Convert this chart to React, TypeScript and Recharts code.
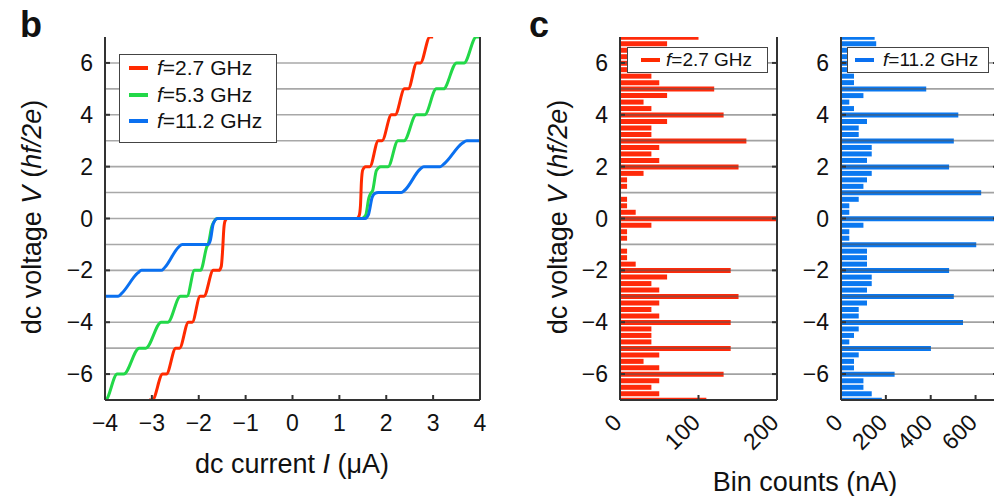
import React from "react";
import {
  LineChart,
  Line,
  BarChart,
  Bar,
  XAxis,
  YAxis,
  CartesianGrid,
  ReferenceLine,
} from "recharts";

const FONT = '"Liberation Sans", Arial, Helvetica, sans-serif';
const AXIS = "#333";
const GRID = "#a8a8a8";

// panel b: I-V curves, [current (uA), voltage (hf/2e)]
const I_TICKS = [-4, -3, -2, -1, 0, 1, 2, 3, 4];
const V_TICKS = [-6, -4, -2, 0, 2, 4, 6];
const V_GRID = [-6, -5, -4, -3, -2, -1, 0, 1, 2, 3, 4, 5, 6];

const RED_CURVE = [
  [-3.06, -7], [-2.99, -7], [-2.77, -6], [-2.69, -6], [-2.49, -5], [-2.41, -5],
  [-2.22, -4], [-2.14, -4], [-1.97, -3], [-1.89, -3], [-1.69, -2], [-1.57, -2],
  [-1.52, -1.85], [-1.49, -1.2], [-1.465, -0.4], [-1.44, -0.1], [-1.39, 0],
  [1.37, 0], [1.42, 0.1], [1.45, 0.5], [1.47, 1.4], [1.5, 1.88], [1.56, 2],
  [1.65, 2], [1.83, 3], [1.91, 3], [2.11, 4], [2.19, 4], [2.39, 5], [2.47, 5],
  [2.65, 6], [2.73, 6], [2.93, 7], [3.0, 7],
];

const GREEN_CURVE = [
  [-4.1, -7], [-3.99, -7], [-3.74, -6], [-3.6, -6], [-3.27, -5], [-3.13, -5],
  [-2.8, -4], [-2.66, -4], [-2.39, -3], [-2.25, -3], [-2.09, -2], [-1.96, -2],
  [-1.83, -1.1], [-1.79, -0.93], [-1.72, -0.3], [-1.6, 0],
  [1.48, 0], [1.56, 0.12], [1.63, 0.8], [1.67, 0.97], [1.71, 1.08], [1.79, 1.85],
  [1.88, 2], [2.04, 2], [2.25, 3], [2.38, 3], [2.64, 4], [2.82, 4], [3.07, 5],
  [3.22, 5], [3.5, 6], [3.66, 6], [3.92, 7], [4.05, 7],
];

const BLUE_CURVE = [
  [-4.1, -3], [-3.72, -3], [-3.65, -2.9], [-3.3, -2.1], [-3.22, -2], [-2.8, -2],
  [-2.73, -1.9], [-2.43, -1.1], [-2.35, -1], [-1.8, -1], [-1.75, -0.82],
  [-1.69, -0.2], [-1.6, 0],
  [1.55, 0], [1.62, 0.15], [1.7, 0.82], [1.76, 0.97], [1.83, 1], [2.32, 1],
  [2.4, 1.1], [2.72, 1.9], [2.8, 2], [3.15, 2], [3.23, 2.1], [3.62, 2.9],
  [3.72, 3], [4.1, 3],
];

const SERIES = [
  { key: "red", label: "2.7 GHz", color: "#ff2a00", points: RED_CURVE },
  { key: "green", label: "5.3 GHz", color: "#22d848", points: GREEN_CURVE },
  { key: "blue", label: "11.2 GHz", color: "#0a70f0", points: BLUE_CURVE },
];

// panel c: histograms, bins of 0.25 hf/2e
const V_BINS = [
  7, 6.75, 6.5, 6.25, 6, 5.75, 5.5, 5.25, 5, 4.75, 4.5, 4.25, 4, 3.75, 3.5, 3.25,
  3, 2.75, 2.5, 2.25, 2, 1.75, 1.5, 1.25, 1, 0.75, 0.5, 0.25, 0, -0.25, -0.5,
  -0.75, -1, -1.25, -1.5, -1.75, -2, -2.25, -2.5, -2.75, -3, -3.25, -3.5, -3.75,
  -4, -4.25, -4.5, -4.75, -5, -5.25, -5.5, -5.75, -6, -6.25, -6.5, -6.75, -7,
];

const RED_COUNTS = [
  100, 60, 45, 40, 130, 40, 40, 50, 120, 60, 30, 40, 132, 60, 40, 40,
  161, 50, 40, 50, 151, 30, 9, 9, 0, 9, 9, 20, 200, 40, 9,
  9, 0, 9, 9, 20, 141, 60, 40, 50, 151, 50, 40, 50,
  141, 40, 40, 40, 141, 50, 30, 50, 132, 50, 40, 50, 110,
];

const BLUE_COUNTS = [
  150, 157, 40, 40, 300, 50, 58, 58, 380, 100, 37, 58, 523, 116, 79, 79,
  503, 137, 137, 116, 482, 137, 116, 100, 625, 79, 37, 37, 700, 100, 37,
  37, 603, 116, 116, 116, 482, 137, 137, 116, 503, 116, 79, 79,
  544, 79, 58, 37, 401, 79, 58, 58, 239, 100, 100, 137, 182,
];

const RED_X_TICKS = [0, 100, 200];
const BLUE_X_TICKS = [0, 200, 400, 600];

const redRows = V_BINS.map((v, k) => ({ v, n: RED_COUNTS[k] }));
const blueRows = V_BINS.map((v, k) => ({ v, n: BLUE_COUNTS[k] }));

const fmt = (v: number) => (v < 0 ? `\u2212${-v}` : `${v}`);

const LeftTick = (p: any) => (
  <g>
    <line x1={p.x} x2={p.x + 5} y1={p.y} y2={p.y} stroke={AXIS} strokeWidth={2} />
    <text x={p.x - 12} y={p.y} dy={8} textAnchor="end" fontSize={23} fill="#111">
      {fmt(p.payload.value)}
    </text>
  </g>
);

const RightTick = (p: any) => (
  <line x1={p.x} x2={p.x - 5} y1={p.y} y2={p.y} stroke={AXIS} strokeWidth={2} />
);

const TopTick = (p: any) => (
  <line x1={p.x} x2={p.x} y1={p.y} y2={p.y + 5} stroke={AXIS} strokeWidth={2} />
);

const BottomTick = (p: any) => (
  <g>
    <line x1={p.x} x2={p.x} y1={p.y} y2={p.y - 5} stroke={AXIS} strokeWidth={2} />
    <text x={p.x} y={p.y + 31} textAnchor="middle" fontSize={23} fill="#111">
      {fmt(p.payload.value)}
    </text>
  </g>
);

const SlantTick = (p: any) => {
  const ax = p.x + 3;
  const ay = p.y + 24;
  return (
    <g>
      <line x1={p.x} x2={p.x} y1={p.y} y2={p.y - 5} stroke={AXIS} strokeWidth={2} />
      <text
        x={ax}
        y={ay}
        transform={`rotate(-45 ${ax} ${ay})`}
        textAnchor="end"
        fontSize={23}
        fill="#111"
      >
        {p.payload.value}
      </text>
    </g>
  );
};

const axisLine = { stroke: AXIS, strokeWidth: 2 };

function Histogram({
  rows,
  color,
  max,
  ticks,
  yWidth,
  rWidth,
  width,
}: {
  rows: { v: number; n: number }[];
  color: string;
  max: number;
  ticks: number[];
  yWidth: number;
  rWidth: number;
  width: number;
}) {
  return (
    <BarChart
      width={width}
      height={496}
      data={rows}
      layout="vertical"
      margin={{ top: 37, right: 0, bottom: 0, left: 0 }}
      barCategoryGap={0}
    >
      <XAxis
        type="number"
        domain={[0, max]}
        ticks={ticks}
        interval={0}
        allowDataOverflow
        height={96}
        axisLine={axisLine}
        tickLine={false}
        tickSize={0}
        tickMargin={0}
        tick={SlantTick}
      />
      <XAxis
        xAxisId="top"
        orientation="top"
        type="number"
        domain={[0, max]}
        ticks={ticks}
        interval={0}
        height={0}
        axisLine={axisLine}
        tickLine={false}
        tickSize={0}
        tickMargin={0}
        tick={TopTick}
      />
      <YAxis
        type="number"
        dataKey="v"
        domain={[-7, 7]}
        ticks={V_TICKS}
        interval={0}
        reversed
        allowDataOverflow
        width={yWidth}
        axisLine={axisLine}
        tickLine={false}
        tickSize={0}
        tickMargin={0}
        tick={LeftTick}
      />
      <YAxis
        yAxisId="r"
        orientation="right"
        type="number"
        dataKey="v"
        domain={[-7, 7]}
        ticks={V_TICKS}
        interval={0}
        reversed
        allowDataOverflow
        width={rWidth}
        axisLine={axisLine}
        tickLine={false}
        tickSize={0}
        tickMargin={0}
        tick={RightTick}
      />
      <Bar dataKey="n" fill={color} barSize={5} isAnimationActive={false} />
      {V_GRID.map((v) => (
        <ReferenceLine
          key={v}
          y={v}
          stroke="#555"
          strokeOpacity={0.55}
          strokeWidth={1.8}
        />
      ))}
    </BarChart>
  );
}

const legendBox: React.CSSProperties = {
  position: "absolute",
  boxSizing: "border-box",
  background: "#fff",
  border: "1px solid #444",
};

function LegendRow({
  color,
  label,
  size,
  pad,
  gap,
  h,
}: {
  color: string;
  label: string;
  size: number;
  pad: number;
  gap: number;
  h: number;
}) {
  return (
    <div style={{ display: "flex", alignItems: "center", height: h, fontSize: size, color: "#111" }}>
      <span style={{ width: 19, height: 4, background: color, marginLeft: pad, marginRight: gap }} />
      <span>
        <i>f</i>={label}
      </span>
    </div>
  );
}

export default function App() {
  return (
    <div
      style={{
        position: "fixed",
        left: 0,
        top: 0,
        width: 994,
        height: 496,
        overflow: "hidden",
        background: "#fff",
        fontFamily: FONT,
      }}
    >
      <div style={{ position: "absolute", left: 0, top: 0 }}>
        <LineChart width={500} height={496} margin={{ top: 37, right: 0, bottom: 0, left: 0 }}>
          <CartesianGrid
            vertical={false}
            horizontalValues={V_GRID}
            stroke={GRID}
            strokeWidth={1.6}
          />
          <XAxis
            type="number"
            dataKey="i"
            domain={[-4, 4]}
            ticks={I_TICKS}
            interval={0}
            allowDataOverflow
            height={96}
            axisLine={axisLine}
            tickLine={false}
            tickSize={0}
            tickMargin={0}
            tick={BottomTick}
          />
          <XAxis
            xAxisId="top"
            orientation="top"
            type="number"
            domain={[-4, 4]}
            ticks={I_TICKS}
            interval={0}
            height={0}
            axisLine={axisLine}
            tickLine={false}
            tickSize={0}
            tickMargin={0}
            tick={TopTick}
          />
          <YAxis
            type="number"
            domain={[-7, 7]}
            ticks={V_TICKS}
            interval={0}
            allowDataOverflow
            width={105}
            axisLine={axisLine}
            tickLine={false}
            tickSize={0}
            tickMargin={0}
            tick={LeftTick}
          />
          <YAxis
            yAxisId="r"
            orientation="right"
            type="number"
            domain={[-7, 7]}
            ticks={V_TICKS}
            interval={0}
            width={20}
            axisLine={axisLine}
            tickLine={false}
            tickSize={0}
            tickMargin={0}
            tick={RightTick}
          />
          {SERIES.map((s) => (
            <Line
              key={s.key}
              data={s.points.map(([i, v]) => ({ i, v }))}
              dataKey="v"
              type="monotone"
              stroke={s.color}
              strokeWidth={3}
              dot={false}
              isAnimationActive={false}
            />
          ))}
        </LineChart>
      </div>

      <div style={{ position: "absolute", left: 540, top: 0 }}>
        <Histogram rows={redRows} color="#ff2a0a" max={200} ticks={RED_X_TICKS} yWidth={80} rWidth={23} width={260} />
      </div>
      <div style={{ position: "absolute", left: 800, top: 0 }}>
        <Histogram rows={blueRows} color="#0a78f0" max={700} ticks={BLUE_X_TICKS} yWidth={41} rWidth={52} width={250} />
      </div>

      <div style={{ ...legendBox, left: 119, top: 54, width: 158, height: 89 }}>
        {SERIES.map((s) => (
          <LegendRow key={s.key} color={s.color} label={s.label} size={21} pad={9} gap={9} h={26.5} />
        ))}
      </div>
      <div style={{ ...legendBox, left: 627, top: 47, width: 141, height: 26 }}>
        <LegendRow color={SERIES[0].color} label={SERIES[0].label} size={19} pad={13} gap={6} h={24} />
      </div>
      <div style={{ ...legendBox, left: 847, top: 47, width: 142, height: 26 }}>
        <LegendRow color={SERIES[2].color} label={SERIES[2].label} size={19} pad={7} gap={9} h={24} />
      </div>

      <svg
        width={994}
        height={496}
        style={{ position: "absolute", left: 0, top: 0, pointerEvents: "none" }}
      >
        <text x={20} y={37} fontSize={36} fontWeight="bold" fill="#111">b</text>
        <text x={529} y={37} fontSize={36} fontWeight="bold" fill="#111">c</text>
        <text transform="translate(41,217) rotate(-90)" textAnchor="middle" fontSize={27} fill="#111">
          dc voltage <tspan fontStyle="italic">V</tspan>
          <tspan dx={8}>(</tspan>
          <tspan fontStyle="italic">hf/2e</tspan>)
        </text>
        <text transform="translate(567,217) rotate(-90)" textAnchor="middle" fontSize={27} fill="#111">
          dc voltage <tspan fontStyle="italic">V</tspan>
          <tspan dx={8}>(</tspan>
          <tspan fontStyle="italic">hf/2e</tspan>)
        </text>
        <text x={292} y={473} textAnchor="middle" fontSize={27} fill="#111">
          dc current <tspan fontStyle="italic">I</tspan> ({"\u03bc"}A)
        </text>
        <text x={805} y={491} textAnchor="middle" fontSize={27} fill="#111">
          Bin counts (nA)
        </text>
      </svg>
    </div>
  );
}
